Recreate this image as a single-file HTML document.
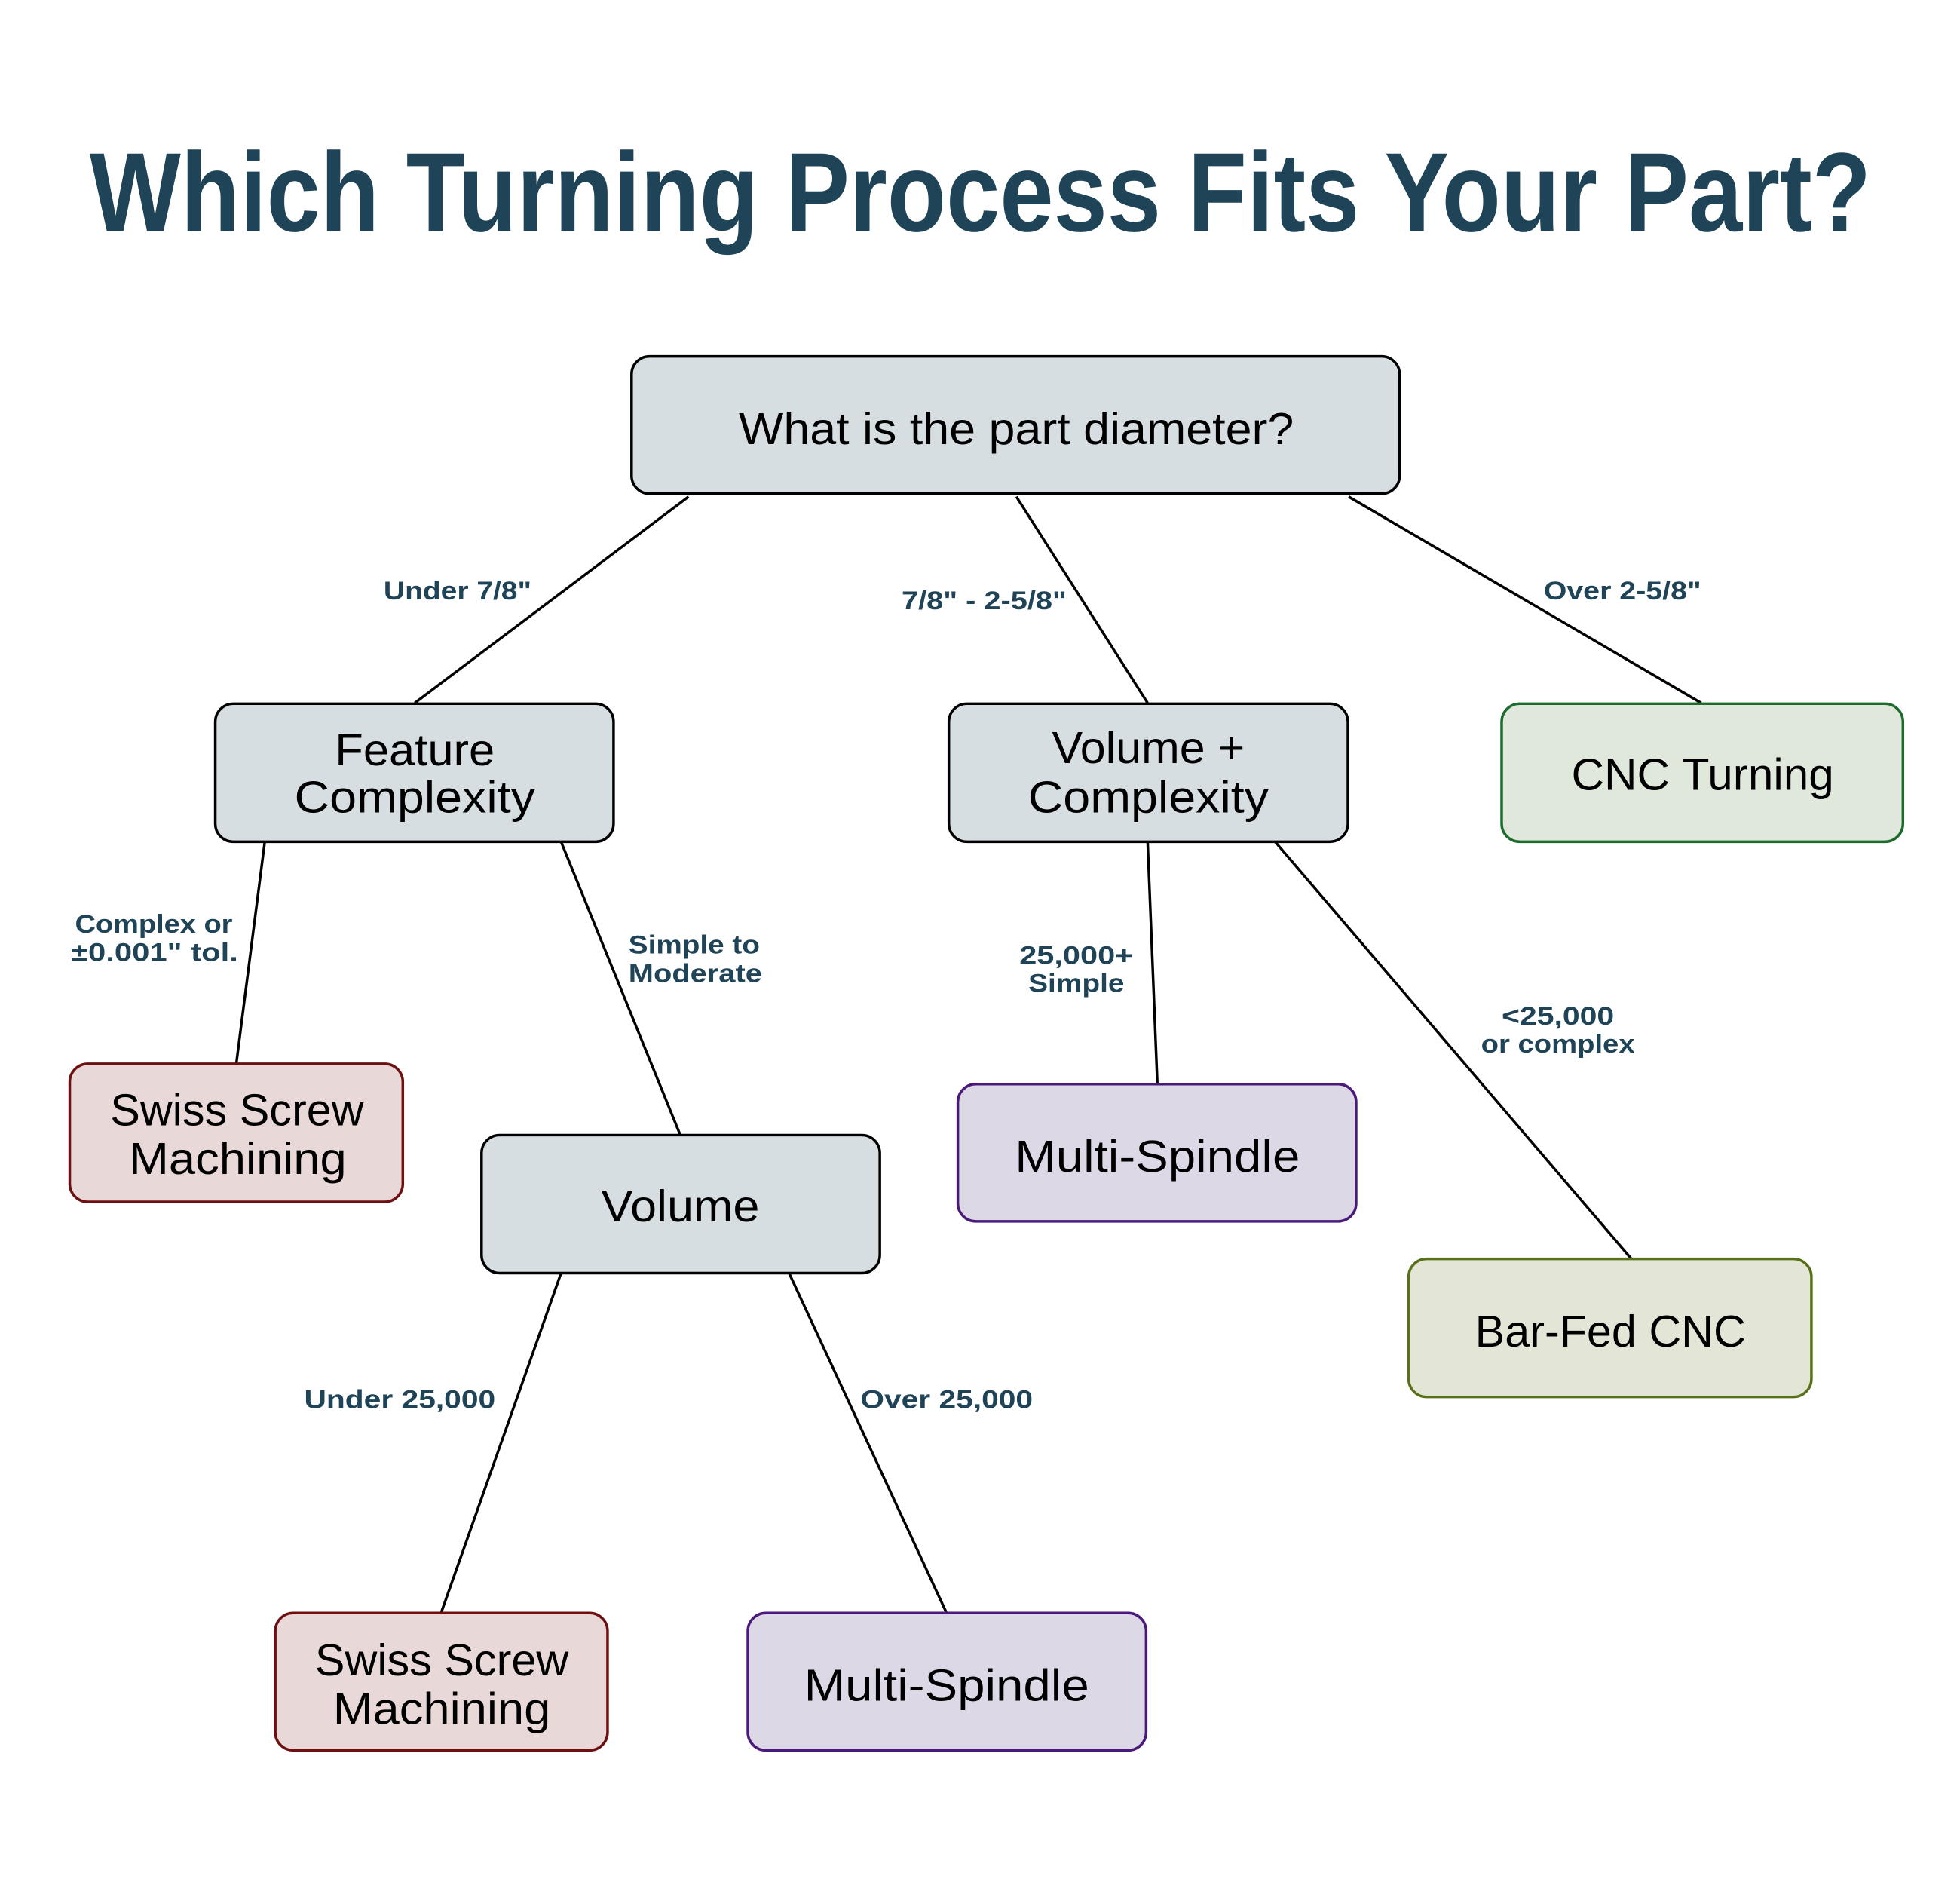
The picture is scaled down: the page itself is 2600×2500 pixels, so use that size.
<!DOCTYPE html>
<html><head><meta charset="utf-8"><style>
html,body{margin:0;padding:0;background:#fff;}
svg{display:block;}
.t{font-family:"Liberation Sans",sans-serif;fill:#000;font-size:60px;text-anchor:middle;}
.l{font-family:"Liberation Sans",sans-serif;fill:#1f4457;font-size:34px;font-weight:bold;text-anchor:middle;}
</style></head><body>
<svg width="2600" height="2500" viewBox="0 0 2600 2500" xmlns="http://www.w3.org/2000/svg">
<rect width="2600" height="2500" fill="#fff"/>
<g transform="scale(0.995)">
<text x="1307" y="308" font-family="Liberation Sans, sans-serif" font-weight="bold" font-size="150" fill="#1f4457" text-anchor="middle" textLength="2375" lengthAdjust="spacingAndGlyphs">Which Turning Process Fits Your Part?</text>
<g stroke="#000" stroke-width="3.5" fill="none">
<line x1="918" y1="662" x2="553" y2="937"/>
<line x1="1355" y1="662" x2="1530" y2="937"/>
<line x1="1798" y1="662" x2="2268" y2="937"/>
<line x1="353" y1="1122" x2="315" y2="1418"/>
<line x1="748" y1="1122" x2="907" y2="1513"/>
<line x1="1530" y1="1122" x2="1543" y2="1445"/>
<line x1="1700" y1="1122" x2="2175" y2="1678"/>
<line x1="748" y1="1697" x2="588" y2="2150"/>
<line x1="1052" y1="1697" x2="1262" y2="2150"/>
</g>
<g stroke-width="3.5">
<rect x="842" y="475" width="1024" height="183" rx="24" fill="#d6dee1" stroke="#000"/>
<rect x="287" y="938" width="531" height="184" rx="24" fill="#d6dee1" stroke="#000"/>
<rect x="1265" y="938" width="532" height="184" rx="24" fill="#d6dee1" stroke="#000"/>
<rect x="2002" y="938" width="535" height="184" rx="24" fill="#dfe8da" stroke="#1e6b2e"/>
<rect x="93" y="1418" width="444" height="184" rx="24" fill="#e8d8d8" stroke="#6e1010"/>
<rect x="642" y="1513" width="531" height="184" rx="24" fill="#d6dee1" stroke="#000"/>
<rect x="1277" y="1445" width="531" height="183" rx="24" fill="#ddd8e6" stroke="#4a1a7a"/>
<rect x="1878" y="1678" width="537" height="184" rx="24" fill="#e3e6d7" stroke="#5a7018"/>
<rect x="367" y="2150" width="443" height="183" rx="24" fill="#e8d8d8" stroke="#6e1010"/>
<rect x="997" y="2150" width="531" height="183" rx="24" fill="#ddd8e6" stroke="#4a1a7a"/>
</g>
<text class="t" x="1355" y="592" textLength="740" lengthAdjust="spacingAndGlyphs">What is the part diameter?</text>
<text class="t" x="553" y="1020" textLength="213" lengthAdjust="spacingAndGlyphs">Feature</text>
<text class="t" x="553" y="1083" textLength="321" lengthAdjust="spacingAndGlyphs">Complexity</text>
<text class="t" x="1531" y="1017" textLength="257" lengthAdjust="spacingAndGlyphs">Volume +</text>
<text class="t" x="1531" y="1083" textLength="321" lengthAdjust="spacingAndGlyphs">Complexity</text>
<text class="t" x="2270" y="1053" textLength="350" lengthAdjust="spacingAndGlyphs">CNC Turning</text>
<text class="t" x="316" y="1500" textLength="338" lengthAdjust="spacingAndGlyphs">Swiss Screw</text>
<text class="t" x="317" y="1565" textLength="290" lengthAdjust="spacingAndGlyphs">Machining</text>
<text class="t" x="907" y="1628" textLength="211" lengthAdjust="spacingAndGlyphs">Volume</text>
<text class="t" x="1543" y="1562" textLength="380" lengthAdjust="spacingAndGlyphs">Multi-Spindle</text>
<text class="t" x="2147" y="1795" textLength="361" lengthAdjust="spacingAndGlyphs">Bar-Fed CNC</text>
<text class="t" x="589" y="2233" textLength="338" lengthAdjust="spacingAndGlyphs">Swiss Screw</text>
<text class="t" x="589" y="2298" textLength="290" lengthAdjust="spacingAndGlyphs">Machining</text>
<text class="t" x="1262" y="2267" textLength="380" lengthAdjust="spacingAndGlyphs">Multi-Spindle</text>
<text class="l" x="610" y="799" textLength="197" lengthAdjust="spacingAndGlyphs">Under 7/8"</text>
<text class="l" x="1312" y="812" textLength="220" lengthAdjust="spacingAndGlyphs">7/8" - 2-5/8"</text>
<text class="l" x="2163" y="799" textLength="210" lengthAdjust="spacingAndGlyphs">Over 2-5/8"</text>
<text class="l" x="205" y="1243" textLength="210" lengthAdjust="spacingAndGlyphs">Complex or</text>
<text class="l" x="206" y="1281" textLength="223" lengthAdjust="spacingAndGlyphs">±0.001" tol.</text>
<text class="l" x="838" y="1271" style="text-anchor:start" textLength="175" lengthAdjust="spacingAndGlyphs">Simple to</text>
<text class="l" x="838" y="1309" style="text-anchor:start" textLength="178" lengthAdjust="spacingAndGlyphs">Moderate</text>
<text class="l" x="1435" y="1285" textLength="152" lengthAdjust="spacingAndGlyphs">25,000+</text>
<text class="l" x="1435" y="1322" textLength="128" lengthAdjust="spacingAndGlyphs">Simple</text>
<text class="l" x="2077" y="1366" textLength="150" lengthAdjust="spacingAndGlyphs">&lt;25,000</text>
<text class="l" x="2077" y="1403" textLength="205" lengthAdjust="spacingAndGlyphs">or complex</text>
<text class="l" x="533" y="1877" textLength="255" lengthAdjust="spacingAndGlyphs">Under 25,000</text>
<text class="l" x="1262" y="1877" textLength="230" lengthAdjust="spacingAndGlyphs">Over 25,000</text>
</g>
</svg>
</body></html>
